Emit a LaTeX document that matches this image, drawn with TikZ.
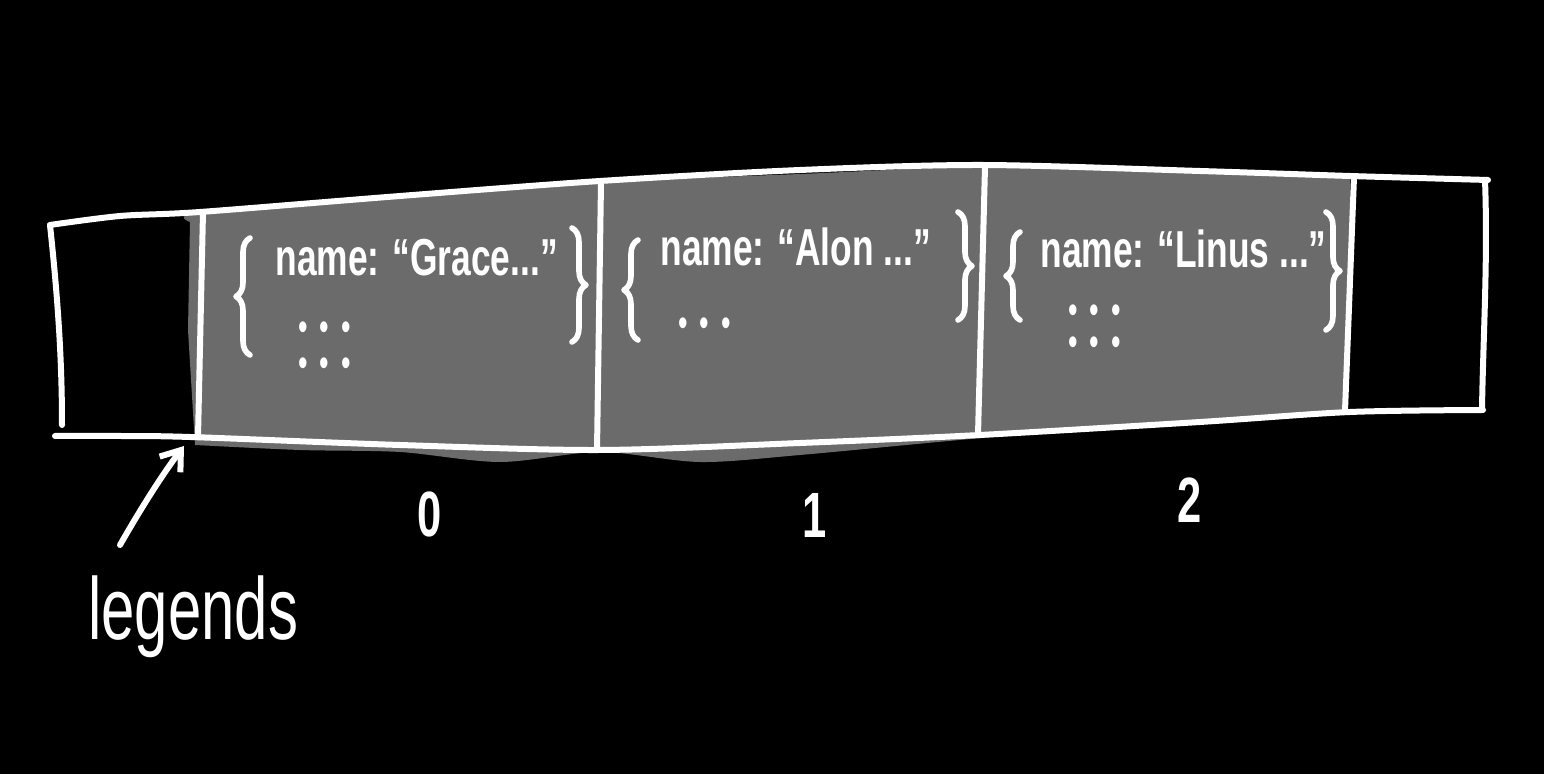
\documentclass[tikz,border=0pt]{standalone}
\usepackage{fontspec}
\setmainfont[FakeStretch=0.68]{Liberation Sans}
\usetikzlibrary{arrows.meta,decorations.pathreplacing}
\newcommand\dotsrow{•\hspace{6pt}•\hspace{6pt}•}
\begin{document}
\begin{tikzpicture}[x=0.5pt,y=-0.5pt, line cap=round, line join=round,
  ink/.style={draw=white, line width=3pt},
  txt/.style={text=white, inner sep=0pt, anchor=base west, text depth=0pt, font=\fontsize{26}{28}\selectfont\bfseries},
  dotrow/.style={text=white, inner sep=0pt, anchor=base west, align=left},
  brc/.style={draw=white, line width=2.8pt, decorate, decoration={brace, amplitude=7pt}},
  idx/.style={text=white, inner sep=0pt, font=\fontsize{32}{34}\selectfont\bfseries}]
\definecolor{cellgray}{RGB}{107,107,107}
% background
\fill[black] (0,0) rectangle (1544,774);
\useasboundingbox (0,0) rectangle (1544,774);
% gray filled cells
\fill[cellgray] plot[smooth] coordinates {(190,222) (200,212) (400,196) (600,182) (800,174) (982,167) (1200,172) (1350,177)}
  -- (1352,300) -- (1345,412) -- plot[smooth] coordinates {(1345,412) (1150,425) (982,438) (800,455) (700,462) (600,452) (500,462) (400,452) (300,450) (195,445)}
  -- (188,330) -- cycle;
% outer box
\draw[ink] plot[smooth] coordinates {(50,225) (120,216) (200,212) (400,196) (600,181) (800,170) (982,165) (1200,171) (1350,176) (1488,180)};
\draw[ink] plot[smooth] coordinates {(55,436) (120,436) (190,437) (400,445) (600,450) (800,443) (980,435) (1200,422) (1350,412) (1483,410)};
\draw[ink] (50,225) .. controls (58,300) and (62,360) .. (62,425);
\draw[ink] (1485,180) .. controls (1488,260) and (1483,340) .. (1482,410);
% dividers
\draw[ink] (203,212) -- (198,437);
\draw[ink] (601,183) -- (597,450);
\draw[ink] (985,167) -- (978,435);
\draw[ink] (1354,177) -- (1345,411);
% cell 0
\draw[brc] (250,355) -- (250,238);
\node[txt] (n0) at (275,276) {name: “Grace...”};
\draw[brc] (572,228) -- (572,342);
\node[dotrow, font=\fontsize{20}{18}\selectfont] (d0) at (298,377) {\dotsrow\\\dotsrow};
% cell 1
\draw[brc] (638,340) -- (638,240);
\node[txt] (n1) at (660,266) {name: “Alon ...”};
\draw[brc] (958,212) -- (958,320);
\node[dotrow, font=\fontsize{20}{18}\selectfont] (d1) at (678,337) {\dotsrow};
% cell 2
\draw[brc] (1020,320) -- (1020,232);
\node[txt] (n2) at (1040,268) {name: “Linus ...”};
\draw[brc] (1326,212) -- (1326,330);
\node[dotrow, font=\fontsize{20}{16}\selectfont] (d2) at (1068,356) {\dotsrow\\\dotsrow};
% indices
\node[idx] (i0) at (430,514) {0};
\node[idx] (i1) at (815,515) {1};
\node[idx] (i2) at (1190,500) {2};
% legend
\node[text=white, inner sep=0pt, anchor=base west, font=\fontsize{44}{48}\selectfont] (leg) at (88,640) {legends};
\coordinate (tail) at (120,545);
\coordinate (tgt) at (184,446);
\draw[ink, -{Straight Barb[length=9pt,width=13pt]}] (tail) .. controls (140,510) and (162,475) .. (tgt);
\end{tikzpicture}
\end{document}
